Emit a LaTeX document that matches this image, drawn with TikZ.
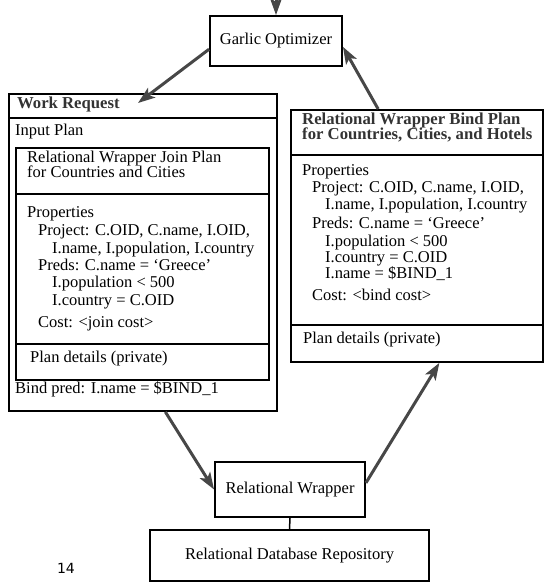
\documentclass[tikz,border=0pt]{standalone}
\usepackage{fontspec}
\setmainfont{Liberation Serif}
\newfontfamily\numfont{DejaVu Sans}
\usetikzlibrary{arrows.meta}
\begin{document}
\begin{tikzpicture}[x=1pt,y=-1pt,
  box/.style={draw, line width=1.9pt, inner sep=0pt},
  panel/.style={box, anchor=north west},
  divider/.style={line width=1.6pt},
  txt/.style={anchor=base west, inner sep=0pt, font=\fontsize{16.5}{17}\selectfont},
  head/.style={txt, text=black!80, font=\fontsize{16.7}{17}\selectfont\bfseries},
  label/.style={box, font=\fontsize{16.5}{17}\selectfont},
  flow/.style={draw=black!72, line width=3pt, -{Stealth[length=17pt,width=12pt,inset=4pt]}}]
\useasboundingbox (0,0) rectangle (548,584);

% optimizer and wrapper boxes
\node[label, minimum width=132pt, minimum height=50pt] (go) at (276,41) {Garlic Optimizer};
\node[label, minimum width=150pt, minimum height=55pt] (rw) at (290,489.5) {Relational Wrapper};
\node[label, minimum width=279pt, minimum height=51pt] (rdr) at (289.5,555.5) {Relational Database Repository};

% work request panel
\node[panel, minimum width=268pt, minimum height=317pt] (wr) at (8,93) {};
\draw[divider] (wr.west |- 0,118) -- (wr.east |- 0,118);
\node[panel, minimum width=253pt, minimum height=232pt] (jp) at (15,147) {};
\draw[divider] (jp.west |- 0,194) -- (jp.east |- 0,194);
\draw[divider] (jp.west |- 0,344) -- (jp.east |- 0,344);

\node[head] (wrh) at (17,108) {Work Request};
\node[txt] (wrin) at (15,135) {Input Plan};
\node[txt] (jp1) at (27,162.5) {Relational Wrapper Join Plan};
\node[txt] (jp2) at (27,177.5) {for Countries and Cities};
\node[txt] (jp3) at (27,217) {Properties};
\node[txt] (jp4) at (38,235) {Project: C.OID, C.name, I.OID,};
\node[txt] (jp5) at (52,253) {I.name, I.population, I.country};
\node[txt] (jp6) at (38,270) {Preds: C.name = ‘Greece’};
\node[txt] (jp7) at (52,287) {I.population < 500};
\node[txt] (jp8) at (52,305) {I.country = C.OID};
\node[txt] (jp9) at (38,327) {Cost: <join cost>};
\node[txt] (jp10) at (30,362) {Plan details (private)};
\node[txt] (wrb) at (15,393) {Bind pred: I.name = \$BIND\_1};

% bind plan panel
\node[panel, minimum width=252pt, minimum height=252pt] (rb) at (290,109) {};
\draw[divider] (rb.west |- 0,155) -- (rb.east |- 0,155);
\draw[divider] (rb.west |- 0,325) -- (rb.east |- 0,325);

\node[head] (rb1) at (302,124) {Relational Wrapper Bind Plan};
\node[head] (rb2) at (302,139.5) {for Countries, Cities, and Hotels};
\node[txt] (rb3) at (302,175) {Properties};
\node[txt] (rb4) at (312,192) {Project: C.OID, C.name, I.OID,};
\node[txt] (rb5) at (325,209) {I.name, I.population, I.country};
\node[txt] (rb6) at (312,228) {Preds: C.name = ‘Greece’};
\node[txt] (rb7) at (325,246) {I.population < 500};
\node[txt] (rb8) at (325,262) {I.country = C.OID};
\node[txt] (rb9) at (325,278) {I.name = \$BIND\_1};
\node[txt] (rb10) at (312,300) {Cost: <bind cost>};
\node[txt] (rb11) at (303,343) {Plan details (private)};

% page number
\node[inner sep=0pt, font=\numfont\fontsize{14}{16}\selectfont] (pg) at (66,568) {14};

% connectors
\coordinate (feed) at (276,-20);
\coordinate (wrtip) at (138,103);
\draw[flow] (feed) -- (go.north);
\draw[flow] (go.187) -- (wrtip);
\draw[flow] (rb.107) -- (go.355);
\draw[flow] (wr.278) -- (rw.west);
\draw[flow] (rw.5) -- (rb.280);
\draw[line width=1.5pt] (rw.south) -- (rdr.north);
\end{tikzpicture}
\end{document}
